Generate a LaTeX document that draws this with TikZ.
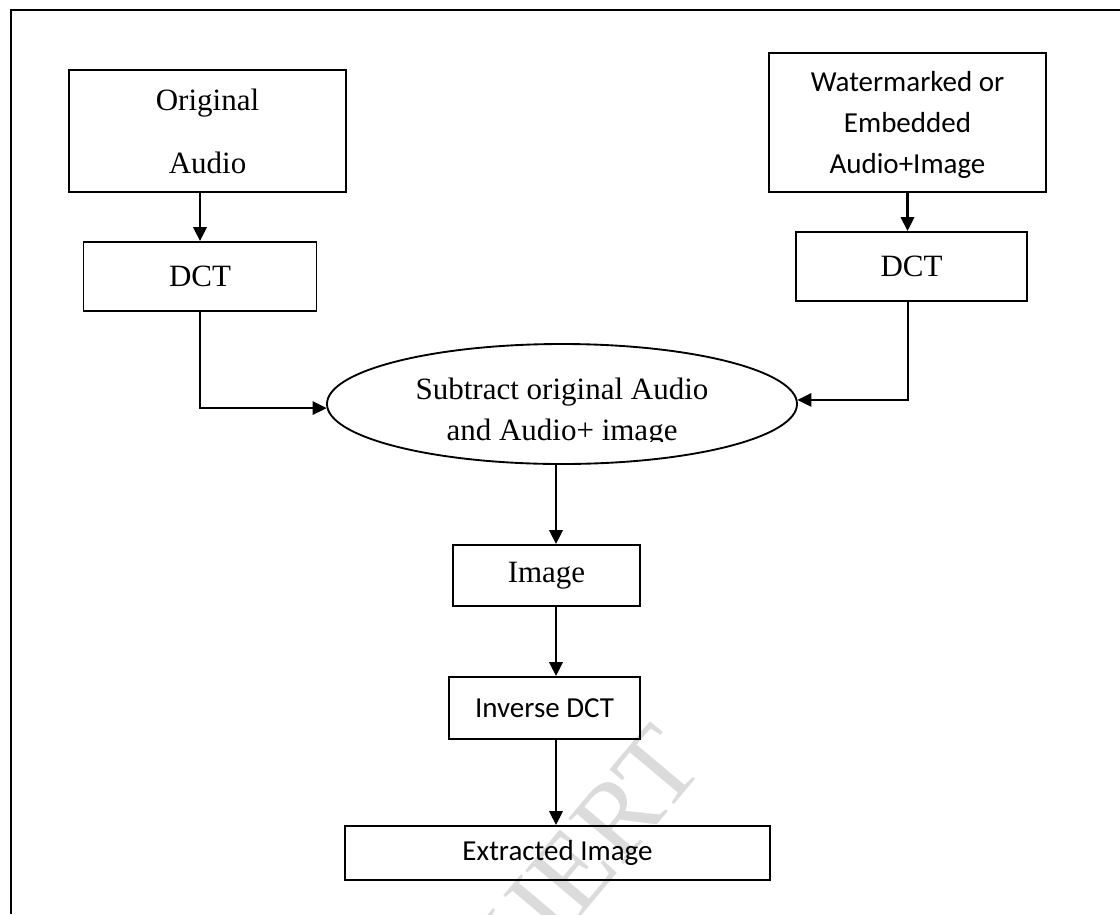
\documentclass[tikz,border=0pt]{standalone}
\usepackage{fontspec}
\setmainfont{Liberation Serif}
\newfontfamily\calibrilike{Carlito}
\usetikzlibrary{arrows.meta,shapes.geometric}

\tikzset{
  stepbox/.style={draw=black, line width=1.4pt, rectangle, inner sep=0pt, align=center},
  serifbig/.style={font=\fontsize{23.25}{47.25}\selectfont},
  sansmid/.style={font=\calibrilike\fontsize{21.75}{30.75}\selectfont},
  flow/.style={line width=1.8pt, -{Triangle[length=10.5pt,width=10pt]}},
  elbow/.style={line width=1.5pt, -{Triangle[length=10.5pt,width=10pt]}},
  frame/.style={line width=1.8pt}
}

\begin{document}
\begin{tikzpicture}[x=0.75pt, y=-0.75pt]
  \useasboundingbox (0,0) rectangle (1120,914);

  % faint publisher mark behind the chart
  \begin{scope}
    \clip (0,0) rectangle (1120,914);
    \node[rotate=50, text=gray!28, inner sep=0pt,
          font=\fontsize{82}{82}\selectfont] (mark) at (590,850) {IJERT};
  \end{scope}

  % page frame (top and left rules only)
  \draw[frame] (11,914) -- (11,10) -- (1120,10);

  % input branches
  \node[stepbox, serifbig, minimum width=207.75pt, minimum height=91.5pt]
        (orig) at (207.5,131) {Original\\Audio};
  \node[stepbox, serifbig, minimum width=174.75pt, minimum height=51.75pt]
        (dctL) at (200,276.5) {DCT};

  \node[stepbox, sansmid, minimum width=207.75pt, minimum height=104.25pt,
        text depth=0pt] (wmk) at (907.5,122.5) {Watermarked or\\Embedded\\Audio+Image};
  \node[stepbox, serifbig, minimum width=173.25pt, minimum height=51.75pt]
        (dctR) at (911.5,266.5) {DCT};

  % subtraction stage
  \node[ellipse, draw=black, line width=1.4pt, inner sep=0pt,
        minimum width=352.5pt, minimum height=90pt] (sub) at (562,404) {};
  \begin{scope}
    \clip (300,330) rectangle (820,441.5);
    \node[align=center, font=\fontsize{23.25}{30.75}\selectfont, inner sep=0pt]
          (subtext) at (562,413) {Subtract original Audio\\and Audio+ image};
  \end{scope}

  % output chain
  \coordinate (spine) at (556,0);
  \node[stepbox, serifbig, minimum width=140.25pt, minimum height=45.75pt]
        (img) at (546.5,575.5) {Image};
  \node[stepbox, sansmid, minimum width=143.25pt, minimum height=46.5pt]
        (idct) at (544.5,708) {Inverse DCT};
  \node[stepbox, sansmid, minimum width=318.75pt, minimum height=40.5pt]
        (ext) at (557.5,853) {Extracted Image};

  % connectors
  \draw[flow] (dctL.north |- orig.south) -- (dctL.north);
  \draw[flow] (wmk.south) -- (wmk.south |- dctR.north);
  \draw[elbow] (dctL.south) |- (sub.181);
  \draw[elbow] (wmk.south |- dctR.south) |- (sub.1.5);
  \draw[flow] (spine |- sub.south) -- (spine |- img.north);
  \draw[flow] (spine |- img.south) -- (spine |- idct.north);
  \draw[flow] (spine |- idct.south) -- (spine |- ext.north);
\end{tikzpicture}
\end{document}
